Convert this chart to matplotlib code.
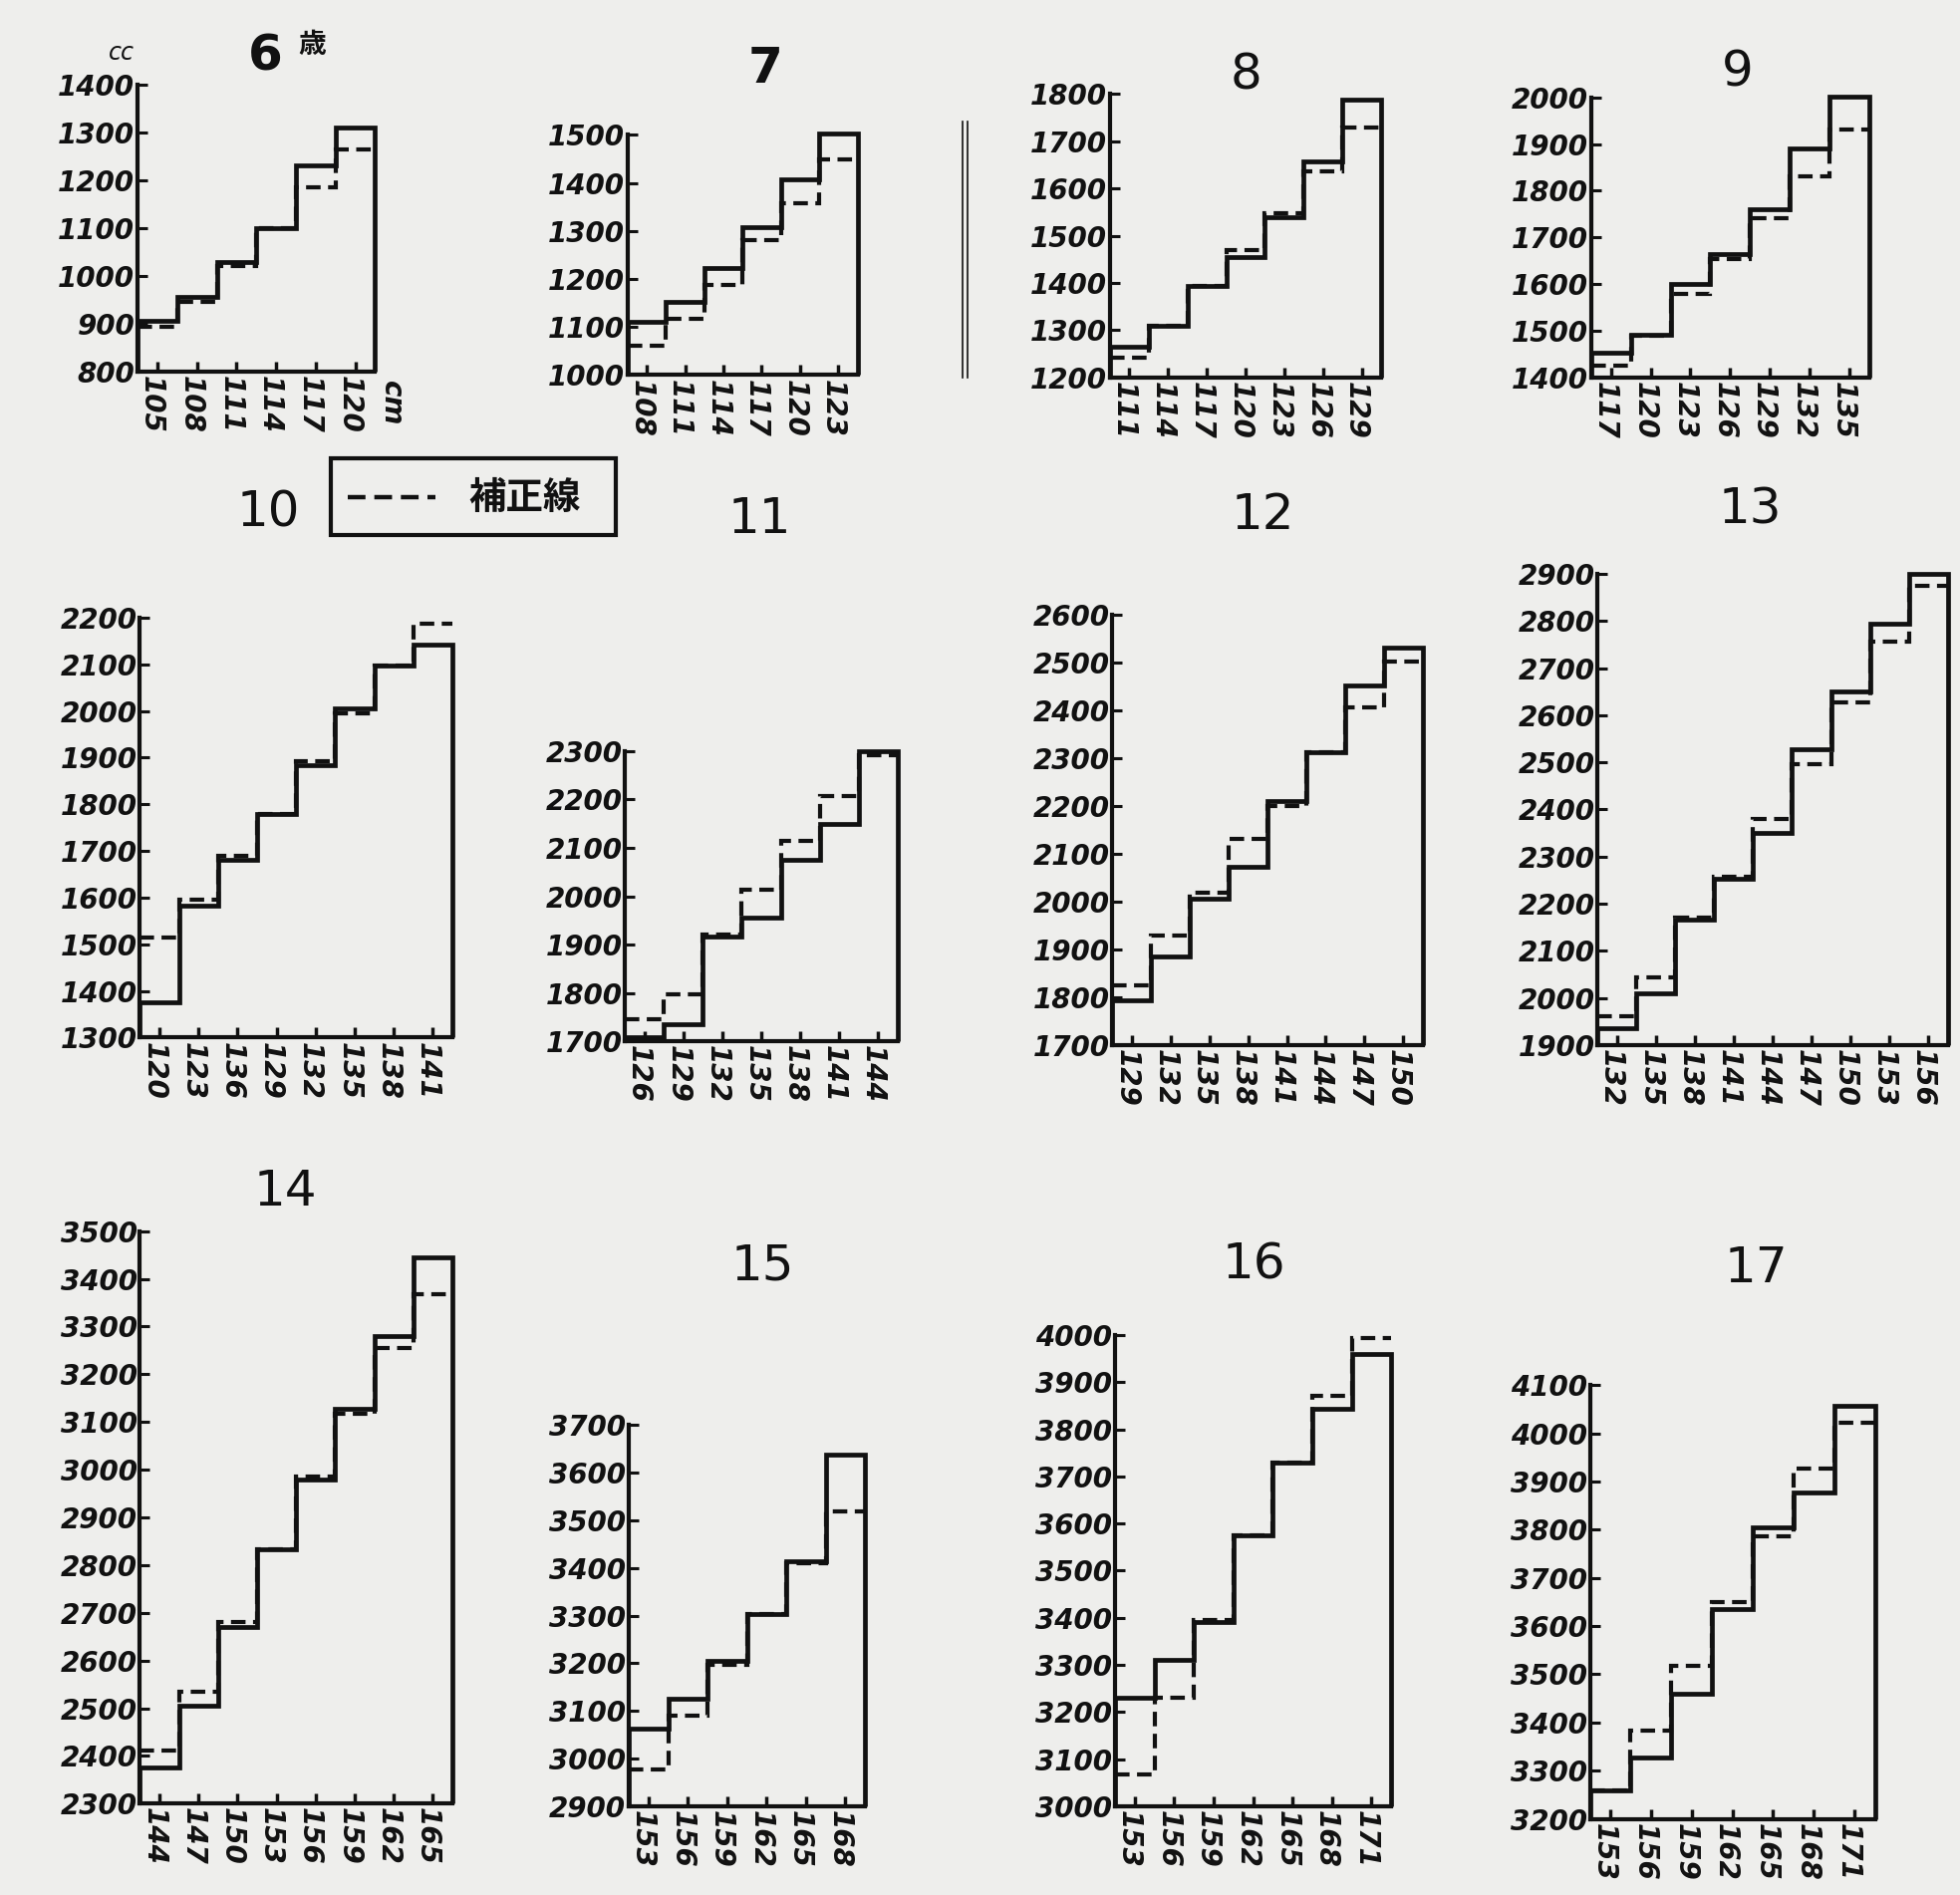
import numpy as np
import matplotlib
matplotlib.use("Agg")
import matplotlib.pyplot as plt
from matplotlib.patches import Rectangle
from matplotlib.lines import Line2D

# ---- data -------------------------------------------------------------
ages = [6, 7, 8, 9, 10, 11, 12, 13, 14, 15, 16, 17]

# left edge of each 3 cm height class (tick labels as printed)
height_labels = [
    ["105", "108", "111", "114", "117", "120"],
    ["108", "111", "114", "117", "120", "123"],
    ["111", "114", "117", "120", "123", "126", "129"],
    ["117", "120", "123", "126", "129", "132", "135"],
    ["120", "123", "136", "129", "132", "135", "138", "141"],
    ["126", "129", "132", "135", "138", "141", "144"],
    ["129", "132", "135", "138", "141", "144", "147", "150"],
    ["132", "135", "138", "141", "144", "147", "150", "153", "156"],
    ["144", "147", "150", "153", "156", "159", "162", "165"],
    ["153", "156", "159", "162", "165", "168"],
    ["153", "156", "159", "162", "165", "168", "171"],
    ["153", "156", "159", "162", "165", "168", "171"],
]
height_start = [105, 108, 111, 117, 120, 126, 129, 132, 144, 153, 153, 153]
bin_width = 3

# vital capacity (cc) per height class: observed and corrected (補正線)
capacity_observed = [
    [905, 955, 1030, 1100, 1231, 1310],
    [1110, 1153, 1223, 1307, 1407, 1503],
    [1266, 1310, 1394, 1455, 1539, 1658, 1787],
    [1453, 1492, 1600, 1664, 1760, 1891, 2002],
    [1375, 1583, 1680, 1778, 1884, 2005, 2097, 2141],
    [1709, 1735, 1917, 1956, 2076, 2150, 2300],
    [1794, 1885, 2006, 2074, 2211, 2313, 2452, 2533],
    [1935, 2009, 2167, 2254, 2350, 2527, 2650, 2795, 2900],
    [2375, 2505, 2670, 2833, 2980, 3127, 3280, 3445],
    [3063, 3125, 3205, 3304, 3415, 3638],
    [3230, 3311, 3392, 3574, 3730, 3843, 3960],
    [3259, 3328, 3460, 3636, 3805, 3877, 4057],
]
capacity_corrected = [
    [893, 945, 1020, 1100, 1186, 1265],
    [1061, 1118, 1188, 1281, 1357, 1448],
    [1242, 1310, 1394, 1470, 1548, 1637, 1728],
    [1425, 1490, 1580, 1653, 1742, 1831, 1931],
    [1514, 1596, 1689, 1778, 1893, 1995, 2097, 2186],
    [1745, 1797, 1921, 2013, 2115, 2208, 2291],
    [1826, 1929, 2019, 2131, 2200, 2313, 2406, 2502],
    [1961, 2044, 2171, 2258, 2380, 2497, 2628, 2756, 2875],
    [2412, 2535, 2680, 2833, 2985, 3117, 3255, 3367],
    [2978, 3090, 3196, 3304, 3411, 3518],
    [3068, 3230, 3396, 3574, 3730, 3872, 3994],
    [3259, 3382, 3518, 3649, 3787, 3926, 4021],
]
y_low = [800, 1000, 1200, 1400, 1300, 1700, 1700, 1900, 2300, 2900, 3000, 3200]
y_high = [1400, 1500, 1800, 2000, 2200, 2300, 2600, 2900, 3500, 3700, 4000, 4100]

# ---- layout (figure fractions) ----------------------------------------
panel_boxes = [
    (0.0702, 0.8041, 0.1212, 0.1510),
    (0.3202, 0.8021, 0.1173, 0.1267),
    (0.5663, 0.8008, 0.1384, 0.1497),
    (0.8119, 0.8008, 0.1416, 0.1478),
    (0.0714, 0.4525, 0.1594, 0.2216),
    (0.3189, 0.4505, 0.1390, 0.1531),
    (0.5676, 0.4485, 0.1582, 0.2269),
    (0.8151, 0.4485, 0.1786, 0.2487),
    (0.0714, 0.0482, 0.1594, 0.3021),
    (0.3208, 0.0468, 0.1205, 0.2012),
    (0.5689, 0.0468, 0.1409, 0.2487),
    (0.8112, 0.0402, 0.1454, 0.2289),
]
title_xy = [(212, 45), (612, 55), (997, 60), (1390, 58),
            (215, 410), (608, 415), (1010, 412), (1400, 408),
            (228, 953), (610, 1013), (1003, 1012), (1405, 1015)]

W, H = 1568.0, 1516.0
INK = "#111111"
PAPER = "#eeeeec"
CJK = ["Noto Sans CJK JP", "DejaVu Sans"]
TICK_FONT = dict(fontsize=20, style="italic", fontweight="bold", color=INK)

fig = plt.figure(figsize=(19.67, 19.02), dpi=100, facecolor=PAPER)


def fx(x):
    return x / W


def fy(y):
    return 1 - y / H


for i, age in enumerate(ages):
    ax = fig.add_axes(panel_boxes[i])
    ax.set_facecolor("none")
    n = len(height_labels[i])
    edges = height_start[i] + bin_width * np.arange(n + 1)
    centers = edges[:-1] + bin_width / 2

    ax.stairs(capacity_observed[i], edges, baseline=y_low[i],
              color=INK, lw=3.4, clip_on=False, zorder=3)
    ax.stairs(capacity_corrected[i], edges, baseline=None,
              color=INK, lw=3.0, linestyle=(0, (3.5, 1.8)),
              clip_on=False, zorder=4)

    ax.set_xlim(edges[0], edges[-1])
    ax.set_ylim(y_low[i], y_high[i])
    for s in ("top", "right"):
        ax.spines[s].set_visible(False)
    for s in ("left", "bottom"):
        ax.spines[s].set_linewidth(3.0)
        ax.spines[s].set_color(INK)

    ax.set_xticks(edges[:-1])
    ax.set_xticklabels(height_labels[i], rotation=-90, ha="left", va="top",
                       **TICK_FONT)
    ax.set_xticks(centers, minor=True)
    ax.tick_params(axis="x", which="major", length=0, pad=3)
    ax.tick_params(axis="x", which="minor", direction="in", length=7,
                   width=2.5, color=INK)

    yt = np.arange(y_low[i], y_high[i] + 1, 100)
    ax.set_yticks(yt)
    ax.set_yticklabels([str(v) for v in yt], **TICK_FONT)
    ax.tick_params(axis="y", direction="in", length=7, width=2.2,
                   color=INK, pad=2)

    if age == 6:
        ax.text(edges[-1] + 0.2, y_low[i] - 20, "cm", rotation=-90,
                ha="left", va="top", **TICK_FONT)

    tx, ty = title_xy[i]
    bold = "bold" if age in (6, 7) else "normal"
    fig.text(fx(tx), fy(ty), str(age), ha="center", va="center",
             fontsize=36, fontweight=bold, color=INK)

# unit marks of the first panel
fig.text(fx(250), fy(36), "歳", family=CJK, fontsize=20, fontweight="bold",
         ha="center", va="center", color=INK)
fig.text(fx(97), fy(42), "cc", fontsize=17, style="italic",
         ha="center", va="center", color=INK)

# legend box
fig.add_artist(Rectangle((fx(265), fy(428)), fx(493) - fx(265),
                         fy(367) - fy(428), transform=fig.transFigure,
                         fill=False, lw=3.0, ec=INK))
fig.add_artist(Line2D([fx(278), fx(348)], [fy(398), fy(398)],
                      transform=fig.transFigure, color=INK, lw=3.2,
                      linestyle=(0, (4.0, 2.0))))
fig.text(fx(420), fy(398), "補正線", family=CJK, fontsize=27,
         fontweight="bold", ha="center", va="center", color=INK)

# thin double rule between the 7 and 8 year panels
for xx in (770, 774):
    fig.add_artist(Line2D([fx(xx), fx(xx)], [fy(97), fy(302)],
                          transform=fig.transFigure, color=INK, lw=1.2))

fig.savefig("out.png", dpi=100, facecolor=PAPER)
